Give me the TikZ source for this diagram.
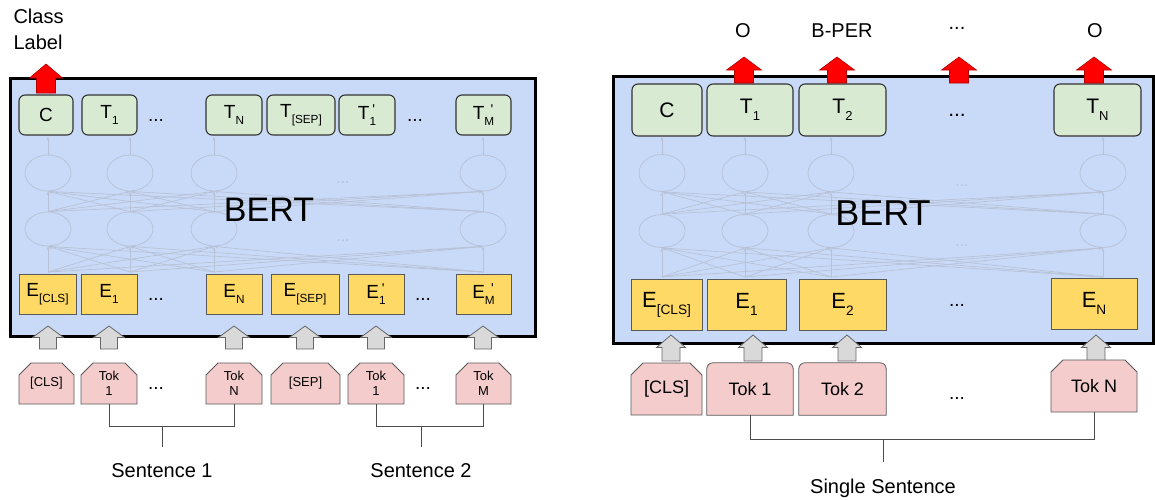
\documentclass[tikz,border=0pt]{standalone}
\usepackage{fontspec}
\setmainfont{Liberation Sans}
\usetikzlibrary{shapes.geometric,shapes.misc,arrows.meta}
\definecolor{bertblue}{HTML}{C9DAF8}
\definecolor{tgreen}{HTML}{D9EAD3}
\definecolor{eyellow}{HTML}{FFD966}
\definecolor{tokpink}{HTML}{F4CCCC}
\definecolor{arrgray}{HTML}{D9D9D9}
\definecolor{netc}{HTML}{B7C2D7}
\definecolor{redarr}{HTML}{FF0000}
\pgfdeclarelayer{back}
\pgfsetlayers{back,main}
\newcommand\sbs[1]{\raisebox{-0.32em}{\scalebox{0.62}{#1}}}
\newcommand\ssp[1]{\raisebox{-0.32em}{\scalebox{0.62}{#1}}\llap{\raisebox{0.3em}{\scalebox{0.75}{\textquotesingle}}\hspace{0.05em}}}
% x, y bottom, y tip, head half width, shaft half width, head height, style
\newcommand\blockarr[7]{\draw[#7] (#1-#5,#2) -- (#1-#5,#3+#6) -- (#1-#4,#3+#6) -- (#1,#3) -- (#1+#4,#3+#6) -- (#1+#5,#3+#6) -- (#1+#5,#2) -- cycle;}
\newcommand\roundtop[1]{\begin{pgfonlayer}{back}\draw[tokline] (#1.south west) -- ([yshift=-6pt]#1.north west) arc[start angle=180,end angle=90,radius=6pt] -- ([xshift=-6pt]#1.north east) arc[start angle=90,end angle=0,radius=6pt] -- (#1.south east) -- cycle;\end{pgfonlayer}}
\begin{document}
\begin{tikzpicture}[x=1pt,y=-1pt,font=\fontsize{19}{23}\selectfont,
  sz/.style 2 args={minimum width=#1pt,minimum height=#2pt},
  bertbox/.style={fill=bertblue,draw=black,line width=3pt},
  tbox/.style={draw=black!80,line width=1.1pt,fill=tgreen,rounded corners=6pt,inner sep=0pt},
  ebox/.style={draw=black!65,line width=0.8pt,fill=eyellow,inner sep=0pt},
  tokc/.style={chamfered rectangle,chamfered rectangle corners={north west,north east},chamfered rectangle xsep=6pt,chamfered rectangle ysep=6pt,draw=black!65,line width=0.8pt,fill=tokpink,inner sep=0pt,align=center},
  tokline/.style={draw=black!65,line width=0.8pt,fill=tokpink},
  tokr/.style={inner sep=0pt,align=center},
  neuron/.style={ellipse,draw=netc,line width=0.8pt,minimum width=46pt,inner sep=0pt},
  netline/.style={draw=netc,line width=0.7pt,-{Stealth[length=4pt,width=3pt]}},
  netdots/.style={text=netc,anchor=base,font=\fontsize{16}{18}\selectfont},
  grayarr/.style={fill=arrgray,draw=black!60,line width=0.8pt},
  redarrow/.style={fill=redarr,draw=red!70!black,line width=0.6pt},
  brk/.style={draw=black!70,line width=1pt},
  lsmall/.style={font=\fontsize{13}{15}\selectfont},
  caption/.style={font=\fontsize{20}{26}\selectfont},
  dots/.style={anchor=base},
  bert/.style={font=\fontsize{#1}{#1}\selectfont}]
\useasboundingbox (0,0) rectangle (1155,499);

%================ LEFT PANEL ================
\draw[bertbox] (10,78) rectangle (535,336);
% network
\foreach \c [count=\i] in {48,130,214,483}{
  \node[neuron,minimum height=36pt] (La\i) at (\c,173) {};
  \node[neuron,minimum height=34pt] (Lb\i) at (\c,229) {};
  \coordinate (Lin\i) at (\c,272);
  \coordinate (Lout\i) at (\c,137);
}
\foreach \i in {1,...,4}{
  \draw[netline] (La\i.north) -- (Lout\i);
  \foreach \j in {1,...,4}{
    \draw[netline] (Lb\i.north) -- (La\j.south);
    \draw[netline] (Lin\i) -- (Lb\j.south);
  }
}
\node[netdots] (Ld1) at (343,183) {...};
\node[netdots] (Ld2) at (343,241) {...};
\node[bert=34] (Lbert) at (269,210) {BERT};
% output row
\node[tbox,sz={54}{40}] (tC) at (46,115) {C};
\node[tbox,sz={55}{40}] (tT1) at (109.5,115) {T\sbs{1}};
\node[dots] (tD1) at (156,121) {...};
\node[tbox,sz={56}{40}] (tTN) at (234,115) {T\sbs{N}};
\node[tbox,sz={68}{40}] (tTS) at (301,115) {T\sbs{[SEP]}};
\node[tbox,sz={56}{40}] (tT1p) at (367,115) {T\ssp{1}};
\node[dots] (tD2) at (415,121) {...};
\node[tbox,sz={55}{40}] (tTMp) at (483.5,115) {T\ssp{M}};
% embedding row
\node[ebox,sz={57}{40}] (eC) at (47.5,294) {E\sbs{[CLS]}};
\node[ebox,sz={56}{40}] (eE1) at (109,294) {E\sbs{1}};
\node[dots] (eD1) at (156,300) {...};
\node[ebox,sz={56}{40}] (eEN) at (234,294) {E\sbs{N}};
\node[ebox,sz={68}{40}] (eES) at (305,294) {E\sbs{[SEP]}};
\node[ebox,sz={56}{40}] (eE1p) at (376,294) {E\ssp{1}};
\node[dots] (eD2) at (423,300) {...};
\node[ebox,sz={55}{40}] (eEMp) at (483.5,294) {E\ssp{M}};
% red arrow
\blockarr{46}{93}{64}{16.5}{9.5}{14}{redarrow}
% gray arrows
\foreach \c in {48,109,234,305,376,483}{\blockarr{\c}{349}{326}{15.5}{8.5}{11.5}{grayarr}}
% tokens
\node[tokc,lsmall,sz={55}{41}] (kC) at (46.5,383.5) {[CLS]};
\node[tokc,lsmall,sz={56}{41}] (kT1) at (109,383.5) {Tok\\1};
\node[dots] (kD1) at (156,389) {...};
\node[tokc,lsmall,sz={56}{41}] (kTN) at (234,383.5) {Tok\\N};
\node[tokc,lsmall,sz={69}{41}] (kS) at (305.5,383.5) {[SEP]};
\node[tokc,lsmall,sz={56}{41}] (kT1p) at (376,383.5) {Tok\\1};
\node[dots] (kD2) at (423,389) {...};
\node[tokc,lsmall,sz={55}{41}] (kTM) at (483.5,383.5) {Tok\\M};
% brackets
\coordinate (b1) at (162,426);
\coordinate (b1e) at (162,447);
\draw[brk] (kT1.south) |- (b1) -| (kTN.south);
\draw[brk] (b1) -- (b1e);
\coordinate (b2) at (421,426);
\coordinate (b2e) at (421,447);
\draw[brk] (kT1p.south) |- (b2) -| (kTM.south);
\draw[brk] (b2) -- (b2e);
\node[caption] (s1) at (162,471) {Sentence 1};
\node[caption] (s2) at (421,471) {Sentence 2};
\node[caption,anchor=west,align=left] (cl) at (10,29) {Class\\Label};

%================ RIGHT PANEL ================
\draw[bertbox] (613,76) rectangle (1153,343);
\foreach \c [count=\i] in {662,745,831,1103}{
  \node[neuron,minimum height=37pt] (Ra\i) at (\c,173) {};
  \node[neuron,minimum height=33pt] (Rb\i) at (\c,231) {};
  \coordinate (Rin\i) at (\c,277);
  \coordinate (Rout\i) at (\c,137);
}
\foreach \i in {1,...,4}{
  \draw[netline] (Ra\i.north) -- (Rout\i);
  \foreach \j in {1,...,4}{
    \draw[netline] (Rb\i.north) -- (Ra\j.south);
    \draw[netline] (Rin\i) -- (Rb\j.south);
  }
}
\node[netdots] (Rd1) at (962,186) {...};
\node[netdots] (Rd2) at (962,246) {...};
\node[bert=36] (Rbert) at (883,213) {BERT};
% output row
\begin{scope}[font=\fontsize{21}{25}\selectfont]
\node[tbox,sz={70}{52}] (rC) at (667,110) {C};
\node[tbox,sz={86}{52}] (rT1) at (750,110) {T\sbs{1}};
\node[tbox,sz={87}{52}] (rT2) at (842.5,110) {T\sbs{2}};
\node[dots] (rtD) at (957,116) {...};
\node[tbox,sz={87}{52}] (rTN) at (1097.5,110) {T\sbs{N}};
\end{scope}
% embedding row
\begin{scope}[font=\fontsize{22}{26}\selectfont]
\node[ebox,sz={71}{51}] (reC) at (666.5,304.5) {E\sbs{[CLS]}};
\node[ebox,sz={79}{51}] (reE1) at (746.5,304.5) {E\sbs{1}};
\node[ebox,sz={87}{51}] (reE2) at (842.5,304.5) {E\sbs{2}};
\node[dots,font=\fontsize{19}{23}\selectfont] (reD) at (957,306) {...};
\node[ebox,sz={86}{51}] (reEN) at (1094,303.5) {E\sbs{N}};
\end{scope}
% red arrows
\foreach \c in {744,837,959,1094}{\blockarr{\c}{83}{57}{17.5}{9.5}{13}{redarrow}}
% gray arrows
\foreach \c in {671,753,847,1096}{\blockarr{\c}{361}{335}{14.5}{9}{12.5}{grayarr}}
% tokens
\begin{scope}[font=\fontsize{18}{22}\selectfont]
\node[tokc,sz={71}{52}] (rkC) at (666.5,389) {[CLS]};
\node[tokr,sz={86}{52}] (rkT1) at (750,389) {Tok 1};
\roundtop{rkT1}
\node[tokr,sz={87}{52}] (rkT2) at (842.5,389) {Tok 2};
\roundtop{rkT2}
\node[dots,font=\fontsize{19}{23}\selectfont] (rkD) at (957,399) {...};
\node[tokc,sz={86}{52}] (rkTN) at (1094,386) {Tok N};
\end{scope}
% bracket
\coordinate (b3) at (883,439);
\coordinate (b3e) at (883,462);
\draw[brk] (rkT1.south) |- (b3) -| (rkTN.south);
\draw[brk] (b3) -- (b3e);
\node[caption] (s3) at (883,488) {Single Sentence};
% top labels
\node[caption] (o1) at (743,31) {O};
\node[caption] (o2) at (842,31) {B-PER};
\node[caption,anchor=base] (o3) at (957,29) {...};
\node[caption] (o4) at (1095,31) {O};
\end{tikzpicture}
\end{document}
